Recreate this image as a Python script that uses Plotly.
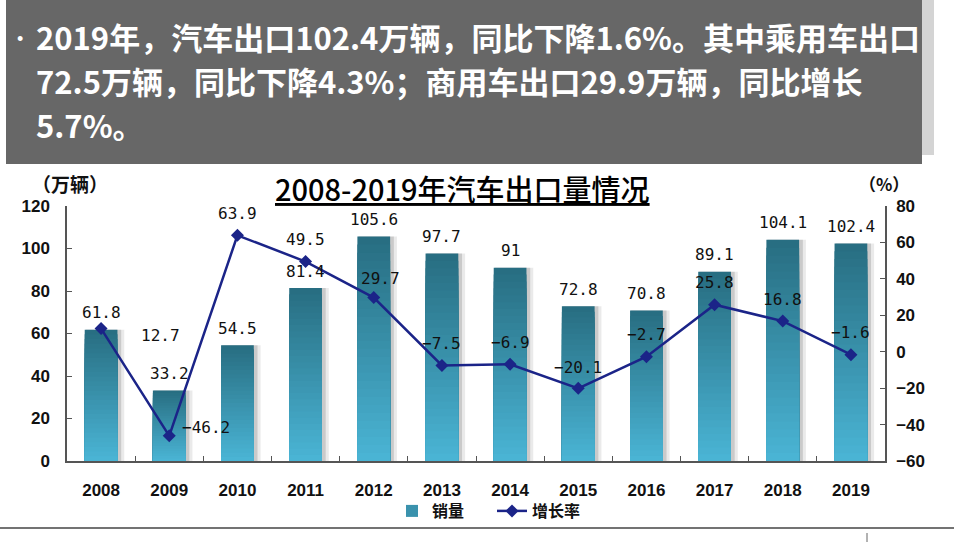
import plotly.graph_objects as go

# ---------------- data ----------------
years = ["2008", "2009", "2010", "2011", "2012", "2013",
         "2014", "2015", "2016", "2017", "2018", "2019"]
sales = [61.8, 33.2, 54.5, 81.4, 105.6, 97.7, 91, 72.8, 70.8, 89.1, 104.1, 102.4]
growth = [12.7, -46.2, 63.9, 49.5, 29.7, -7.5, -6.9, -20.1, -2.7, 25.8, 16.8, -1.6]
left_ticks = [0, 20, 40, 60, 80, 100, 120]
right_ticks = [-60, -40, -20, 0, 20, 40, 60, 80]

title_text = "2008-2019年汽车出口量情况"
left_unit = "（万辆）"
right_unit = "（%）"
series_names = ["销量", "增长率"]
banner_lines = [
    "2019年，汽车出口102.4万辆，同比下降1.6%。其中乘用车出口",
    "72.5万辆，同比下降4.3%；商用车出口29.9万辆，同比增长",
    "5.7%。",
]

# label offsets (px) for growth labels
growth_label_shift = [(59, -7), (37, 8), (0, 22), (0, 22), (7, 19), (0, 22),
                      (0, 22), (0, 21), (0, 22), (0, 22), (0, 22), (0, 22)]

# ---------------- layout geometry ----------------
W, H = 954, 542
L, R, T, B = 67, 69, 206, 81
PW, PH = W - L - R, H - T - B


def px_x(x):
    return (x - L) / PW


def px_y(y):
    return (H - B - y) / PH


CJK = "Noto Sans CJK SC"
LAT = "Liberation Sans"

fig = go.Figure()

# bar shadow
fig.add_trace(go.Bar(x=years, y=sales, width=0.56, offset=-0.22,
                     marker=dict(color="rgba(90,90,90,0.13)", line=dict(width=0)),
                     showlegend=False, hoverinfo="skip"))
fig.add_trace(go.Bar(x=years, y=sales, width=0.52, offset=-0.225,
                     marker=dict(color="rgba(90,90,90,0.22)", line=dict(width=0)),
                     showlegend=False, hoverinfo="skip"))

# gradient bars (layers)
top_c = (40, 110, 130)
bot_c = (74, 180, 212)
N = 28
for k in range(N):
    t = k / (N - 1)
    c = tuple(round(top_c[i] + (bot_c[i] - top_c[i]) * t) for i in range(3))
    fig.add_trace(go.Bar(
        x=years, y=[v * (N - k) / N for v in sales], width=0.48,
        marker=dict(color="rgb(%d,%d,%d)" % c, line=dict(width=0)),
        name=series_names[0], showlegend=(k == N // 2), legend="legend",
        hoverinfo="skip"))

# growth line
fig.add_trace(go.Scatter(
    x=years, y=growth, yaxis="y2", mode="lines+markers", name=series_names[1],
    line=dict(color="#1b2488", width=2.5),
    marker=dict(symbol="diamond", size=10, color="#1b2488"),
    legend="legend2"))

label_font = dict(family="DejaVu Sans Mono", size=16, color="#111")
annotations = []
# sales labels (x given as category index)
for i, v in enumerate(sales):
    annotations.append(dict(x=i, y=v, xref="x", yref="y", text=f"{v:g}",
                            showarrow=False, yshift=17, yanchor="middle",
                            font=label_font))
# growth labels
for i, (g, (dx, dy)) in enumerate(zip(growth, growth_label_shift)):
    annotations.append(dict(x=i, y=g, xref="x", yref="y2",
                            text=f"{g:g}".replace("-", "−"),
                            showarrow=False, xshift=dx, yshift=dy, yanchor="middle",
                            font=label_font))

# banner text
banner_y = [37, 80, 124]
for line, yy in zip(banner_lines, banner_y):
    annotations.append(dict(x=px_x(34), y=px_y(yy), xref="paper", yref="paper",
                            xanchor="left", yanchor="middle", text=line, showarrow=False,
                            font=dict(family=CJK, size=31, color="white", weight="bold")))
annotations.append(dict(x=px_x(20), y=px_y(39), xref="paper", yref="paper",
                        xanchor="center", yanchor="middle", text="•", showarrow=False,
                        font=dict(family=LAT, size=18, color="white")))

# title and units
annotations.append(dict(x=px_x(462), y=px_y(188), xref="paper", yref="paper",
                        xanchor="center", yanchor="middle", text="<u>" + title_text + "</u>",
                        showarrow=False,
                        font=dict(family=CJK, size=29, color="black", weight=500)))
annotations.append(dict(x=px_x(70), y=px_y(183), xref="paper", yref="paper",
                        xanchor="center", yanchor="middle", text=left_unit, showarrow=False,
                        font=dict(family=CJK, size=19, color="#111", weight="bold")))
annotations.append(dict(x=px_x(884), y=px_y(183), xref="paper", yref="paper",
                        xanchor="center", yanchor="middle", text=right_unit, showarrow=False,
                        font=dict(family=CJK, size=17, color="#111", weight="bold")))

shapes = [
    dict(type="rect", xref="paper", yref="paper", x0=px_x(922), x1=px_x(934),
         y0=px_y(155), y1=px_y(-2), fillcolor="#d4d4d4", line=dict(width=0), layer="below"),
    dict(type="rect", xref="paper", yref="paper", x0=px_x(6), x1=px_x(922),
         y0=px_y(164), y1=px_y(-2), fillcolor="#676767", line=dict(width=0), layer="below"),
    dict(type="line", xref="paper", yref="paper", x0=px_x(-2), x1=px_x(956),
         y0=px_y(528), y1=px_y(528), line=dict(color="#444", width=1.5)),
    dict(type="line", xref="paper", yref="paper", x0=px_x(867), x1=px_x(867),
         y0=px_y(533), y1=px_y(544), line=dict(color="#666", width=1)),
]

axis_font = dict(family=LAT, size=17, color="#111", weight="bold")

fig.update_layout(
    width=W, height=H, autosize=False,
    margin=dict(l=L, r=R, t=T, b=B, pad=0),
    paper_bgcolor="white", plot_bgcolor="white",
    barmode="overlay", bargap=0.5,
    xaxis=dict(type="category", range=[-0.5, 11.5], showline=True, linecolor="#555",
               linewidth=1.5, ticks="inside", tickson="boundaries", ticklen=5,
               tickcolor="#555", showgrid=False, tickfont=axis_font,
               ticklabelstandoff=13),
    yaxis=dict(range=[0, 120], tickvals=left_ticks, showline=True, linecolor="#555",
               linewidth=1.5, ticks="inside", ticklen=5, tickcolor="#555",
               showgrid=False, zeroline=False, tickfont=axis_font, ticklabelstandoff=12),
    yaxis2=dict(range=[-60, 80], tickvals=right_ticks, overlaying="y", side="right",
                showline=True, linecolor="#555", linewidth=1.5, ticks="inside",
                ticklen=5, tickcolor="#555", showgrid=False, zeroline=False,
                tickfont=axis_font, ticklabelstandoff=6),
    legend=dict(orientation="h", x=px_x(392), xanchor="left", y=px_y(511),
                yanchor="middle", font=dict(family=CJK, size=16, color="#111", weight="bold"),
                bgcolor="rgba(0,0,0,0)"),
    legend2=dict(orientation="h", x=px_x(492), xanchor="left", y=px_y(511),
                 yanchor="middle", font=dict(family=CJK, size=16, color="#111", weight="bold"),
                 bgcolor="rgba(0,0,0,0)"),
    annotations=annotations,
    shapes=shapes,
    showlegend=True,
)

fig.write_html("out.html", config={"displayModeBar": False},
               post_script="document.body.style.margin='0';document.body.style.overflow='hidden';")
